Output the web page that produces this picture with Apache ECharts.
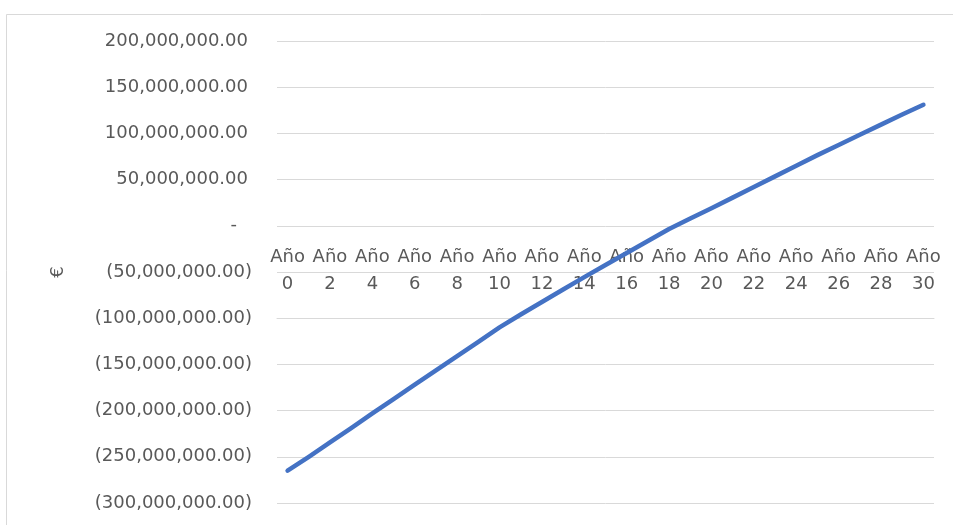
<!DOCTYPE html>
<html>
<head>
<meta charset="utf-8">
<script src="https://cdn.jsdelivr.net/npm/echarts@6/dist/echarts.min.js"></script>
<style>
  html, body { margin: 0; padding: 0; background: #ffffff; }
  #chart { width: 953px; height: 525px; }
</style>
</head>
<body>
<div id="chart"></div>
<script>
// Cumulative cash position per year (millions of euros)
const categories = [
  'Año 0', 'Año 1', 'Año 2', 'Año 3', 'Año 4', 'Año 5', 'Año 6', 'Año 7',
  'Año 8', 'Año 9', 'Año 10', 'Año 11', 'Año 12', 'Año 13', 'Año 14', 'Año 15',
  'Año 16', 'Año 17', 'Año 18', 'Año 19', 'Año 20', 'Año 21', 'Año 22', 'Año 23',
  'Año 24', 'Año 25', 'Año 26', 'Año 27', 'Año 28', 'Año 29', 'Año 30'
];
const valuesMillions = [
  -265, -250, -234.5, -219, -203, -187.5, -172, -156.5,
  -141, -125.5, -110, -96, -82.5, -69, -55.5, -42.5,
  -29.5, -16.5, -3.5, 8, 19, 30.5, 42, 53.5,
  65, 76.5, 87.5, 98.5, 109.5, 120.5, 131
];
const yTicks = { min: -300000000, max: 200000000, step: 50000000 };
const axisName = '€';

const seriesValues = valuesMillions.map(v => v * 1e6);

function accounting(v) {
  if (v === 0) return '{zero|-}';
  const s = Math.abs(v).toLocaleString('en-US', { minimumFractionDigits: 2, maximumFractionDigits: 2 });
  return v < 0 ? '{neg|(' + s + ')}' : '{pos|' + s + '}';
}

const FONT = 'DejaVu Sans';
const GREY = '#595959';

const chart = echarts.init(document.getElementById('chart'), null, { renderer: 'canvas' });
chart.setOption({
  animation: false,
  backgroundColor: '#ffffff',
  graphic: [{
    type: 'rect',
    shape: { x: 6.5, y: 14.5, width: 1000, height: 600 },
    style: { fill: 'none', stroke: '#d9d9d9', lineWidth: 1 },
    silent: true
  }],
  grid: { left: 277, right: 19, top: 41, bottom: 22, containLabel: false, outerBoundsMode: 'none' },
  xAxis: {
    type: 'category',
    data: categories,
    boundaryGap: true,
    axisLine: { show: true, onZero: true, lineStyle: { color: '#d9d9d9', width: 1 } },
    axisTick: { show: false },
    splitLine: { show: false },
    axisLabel: {
      interval: 1,
      margin: 18,
      fontFamily: FONT,
      fontSize: 18,
      color: GREY,
      lineHeight: 27,
      formatter: v => v.replace(' ', '\n')
    }
  },
  yAxis: {
    type: 'value',
    min: yTicks.min,
    max: yTicks.max,
    interval: yTicks.step,
    name: axisName,
    nameLocation: 'middle',
    nameRotate: 90,
    nameGap: 210,
    nameTextStyle: { fontFamily: FONT, fontSize: 18, color: GREY },
    axisLine: { show: false },
    axisTick: { show: false },
    splitLine: { show: true, lineStyle: { color: '#d9d9d9', width: 1 } },
    axisLabel: {
      margin: 25,
      fontFamily: FONT,
      fontSize: 18,
      color: GREY,
      formatter: accounting,
      rich: {
        pos: { fontFamily: FONT, fontSize: 18, color: GREY, padding: [0, 4, 0, 0] },
        neg: { fontFamily: FONT, fontSize: 18, color: GREY },
        zero: { fontFamily: FONT, fontSize: 18, color: GREY, padding: [0, 15, 0, 0] }
      }
    }
  },
  series: [{
    type: 'line',
    data: seriesValues,
    showSymbol: false,
    symbol: 'none',
    smooth: false,
    lineStyle: { color: '#4472C4', width: 4.5, cap: 'round', join: 'round' },
    itemStyle: { color: '#4472C4' }
  }]
});

// Put the category axis on the value axis' zero line, using the axis scale
const zeroPx = chart.convertToPixel({ yAxisIndex: 0 }, 0);
const bottomPx = chart.convertToPixel({ yAxisIndex: 0 }, yTicks.min);
const shift = zeroPx - bottomPx;
if (Math.abs(shift) > 1) {
  chart.setOption({ xAxis: { offset: shift } });
}
</script>
</body>
</html>
